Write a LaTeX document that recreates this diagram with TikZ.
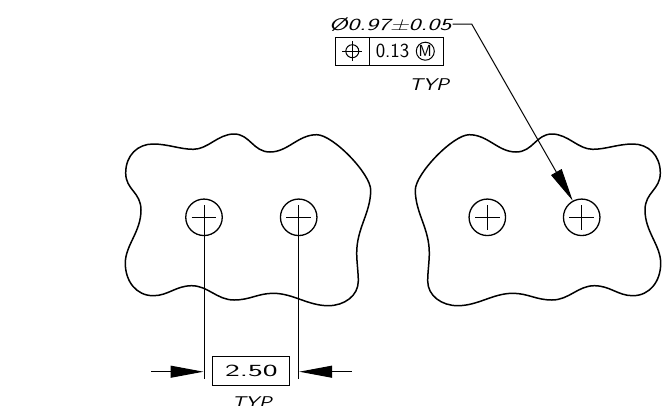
\documentclass[tikz,border=0pt]{standalone}
\usepackage{graphicx}
\usetikzlibrary{arrows.meta}
\tikzset{
  outline/.style={line width=1.5pt,line join=round},
  thin line/.style={line width=1pt},
  hole/.style={circle,draw,line width=1.3pt,minimum size=36.5pt,inner sep=0pt},
  dimtip/.style={-{Triangle[length=33pt,width=12pt]}},
  lbl/.style={inner sep=0pt,font=\sffamily},
  framebox/.style={draw,thin line,inner sep=0pt},
}
\newcommand{\wide}[3]{\scalebox{#1}[#2]{#3}}
\newcommand{\outlinepath}{(125.7,173)
 .. controls (125.7,155) and (138,144) .. (153,144)
 .. controls (168,144) and (180,149.3) .. (193.3,149.3)
 .. controls (208,149.3) and (218,134) .. (234,134)
 .. controls (250,134) and (253,152) .. (270,152)
 .. controls (288,152) and (298,134.7) .. (316.7,134.7)
 .. controls (333,134.7) and (370.7,174) .. (370.7,190)
 .. controls (370.7,213) and (356.7,228) .. (356.7,253)
 .. controls (356.7,262) and (358.3,272) .. (358.3,281)
 .. controls (358.3,296) and (344,305.7) .. (328.3,305.7)
 .. controls (308,305.7) and (293,293.3) .. (273.3,293.3)
 .. controls (258,293.3) and (250,300) .. (234,300)
 .. controls (217,300) and (208,285.7) .. (191.7,285.7)
 .. controls (176,285.7) and (168,295.7) .. (153.3,295.7)
 .. controls (136,295.7) and (125.3,281) .. (125.3,263.3)
 .. controls (125.3,245) and (141,232) .. (141,210)
 .. controls (141,192) and (125.7,190) .. (125.7,173) -- cycle}
\begin{document}
\begin{tikzpicture}[x=1pt,y=-1pt]
\useasboundingbox (0,0) rectangle (668,405);
% outlines
\draw[outline] \outlinepath;
\begin{scope}[shift={(786,0)},xscale=-1]
\draw[outline] \outlinepath;
\end{scope}
% holes
\node[hole] (h1) at (204,217.3) {};
\node[hole] (h2) at (298.7,217.3) {};
\node[hole] (h3) at (487.3,217.3) {};
\node[hole] (h4) at (581.7,217.3) {};
\foreach \h in {h1,h2,h3,h4}{
  \draw[thin line] ([xshift=-12.3pt]\h.center) -- ([xshift=12.3pt]\h.center);
}
\foreach \h in {h3,h4}{
  \draw[thin line] ([yshift=-12.3pt]\h.center) -- ([yshift=12.3pt]\h.center);
}
% dimension
\coordinate (e1) at (204,379);
\coordinate (e2) at (298.7,379);
\draw[thin line] ([yshift=12.3pt]h1.center) -- (e1);
\draw[thin line] ([yshift=12.3pt]h2.center) -- (e2);
\coordinate (t1) at (203.5,371.7);
\coordinate (t2) at (299.2,371.7);
\coordinate (a1) at (151,371.7);
\coordinate (a2) at (351.7,371.7);
\draw[thin line,dimtip] (a1) -- (t1);
\draw[thin line,dimtip] (a2) -- (t2);
\node[framebox,minimum width=77.3pt,minimum height=29.3pt] (dim) at (251.3,371.3) {};
\node[lbl] (dimtxt) at (251.3,371.3) {\wide{1.85}{1}{\fontsize{17}{17}\selectfont 2.50}};
\node[lbl] (typb) at (251.7,403) {\wide{1.25}{1}{\fontsize{17}{17}\selectfont\slshape TYP}};
% feature control frame
\node[lbl] (dia) at (390,24.5) {\wide{1.5}{1}{\fontsize{17}{17}\selectfont\slshape Ø0.97±0.05}};
\node[framebox,minimum width=34.3pt,minimum height=27.7pt] (f1) at (352.2,51.2) {};
\node[framebox,minimum width=74pt,minimum height=27.7pt] (f2) at (406.3,51.2) {};
\node[circle,draw,thin line,minimum size=13pt,inner sep=0pt] (pos) at (352.3,51.2) {};
\draw[thin line] ([xshift=-10pt]pos.center) -- ([xshift=10pt]pos.center);
\draw[thin line] ([yshift=-10pt]pos.center) -- ([yshift=10pt]pos.center);
\node[lbl] (tol) at (392.5,51.2) {\fontsize{20}{20}\selectfont 0.13};
\node[circle,draw,thin line,minimum size=18pt,inner sep=0pt] (mod) at (425.3,51.2) {};
\node[lbl] at (mod.center) {\fontsize{16}{16}\selectfont M};
\node[lbl] (typt) at (429,85) {\wide{1.25}{1}{\fontsize{17}{17}\selectfont\slshape TYP}};
% leader
\coordinate (l1) at (452.7,24);
\coordinate (l2) at (471.7,24);
\coordinate (tip) at (572.7,200.7);
\draw[thin line,dimtip,line join=round] (l1) -- (l2) -- (tip);
\end{tikzpicture}
\end{document}
